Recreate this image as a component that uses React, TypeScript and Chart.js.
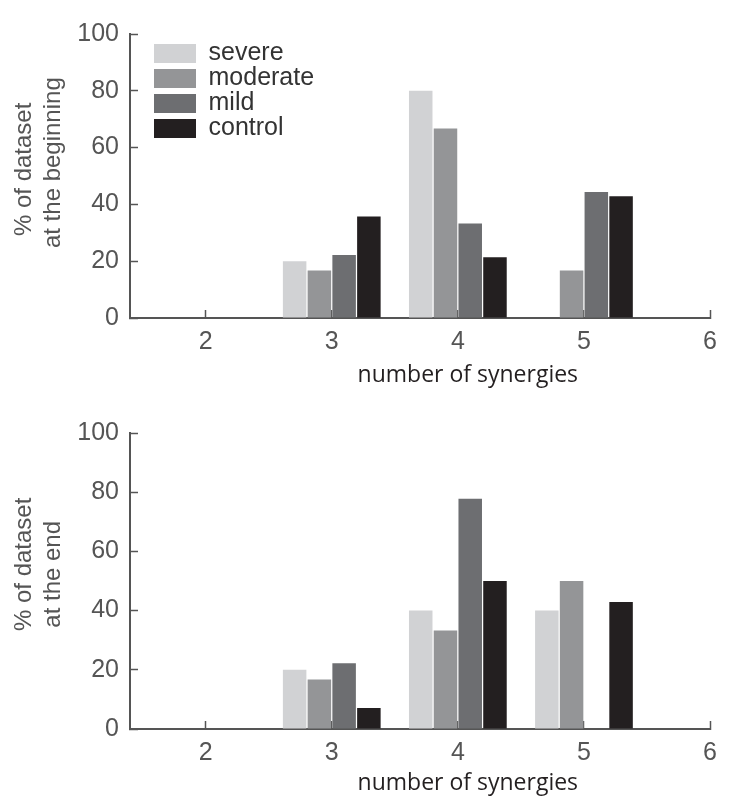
import React, { useEffect, useRef } from "react";
import { Chart, registerables } from "chart.js";

Chart.register(...registerables);

// ---- data ----
const categories = [3, 4, 5];
const xTickValues = [2, 3, 4, 5, 6];
const yTickValues = [0, 20, 40, 60, 80, 100];
const seriesNames = ["severe", "moderate", "mild", "control"];
const seriesColors = ["#d1d2d4", "#949597", "#6d6e71", "#231f20"];

const beginSevere = [20, 80, 0];
const beginModerate = [16.7, 66.7, 16.7];
const beginMild = [22.2, 33.3, 44.4];
const beginControl = [35.7, 21.4, 42.9];

const endSevere = [20, 40, 40];
const endModerate = [16.7, 33.3, 50];
const endMild = [22.2, 77.8, 0];
const endControl = [7.1, 50, 42.9];

// leading spaces nudge the centred titles to where the original places them
const topYTitle = ["  % of dataset", "    at the beginning"];
const bottomYTitle = ["     % of dataset", "  at the end"];
const xTitle = "                number of synergies";

const AXIS_COLOR = "#555555";
const TICK_FONT = "'Liberation Sans', Arial, sans-serif";

const legendShift = {
  id: "legendShift",
  afterLayout(chart: any) {
    const l = chart.legend;
    if (!l || !chart.options.plugins.legend.display) return;
    const ca = chart.chartArea;
    l.left = ca.left + 24;
    l.top = ca.top + 7;
    l.right = ca.right;
    l.bottom = ca.bottom;
  },
};

function buildConfig(
  values: number[][],
  yTitle: string[],
  withLegend: boolean,
  padTop: number,
  xAxisHeight: number,
  xTitlePadBottom: number
): any {
  return {
    type: "bar",
    data: {
      datasets: seriesNames.map((name, i) => ({
        label: name,
        data: categories.map((c, j) => ({ x: c, y: values[i][j] })),
        backgroundColor: seriesColors[i],
        borderWidth: 0,
        categoryPercentage: 0.785,
        barPercentage: 0.95,
      })),
    },
    options: {
      responsive: false,
      animation: false,
      devicePixelRatio: 1,
      layout: { padding: { top: padTop, right: 11, left: 0, bottom: 0 } },
      plugins: {
        tooltip: { enabled: false },
        legend: {
          display: withLegend,
          position: "chartArea",
          align: "start",
          labels: {
            boxWidth: 42,
            boxHeight: 19,
            padding: 0,
            color: "#333333",
            font: { family: TICK_FONT, size: 25 },
          },
        },
      },
      scales: {
        x: {
          type: "linear",
          min: 1.4,
          max: 6,
          offset: false,
          afterFit: (s: any) => {
            s.height = xAxisHeight;
          },
          afterBuildTicks: (s: any) => {
            s.ticks = xTickValues.map((v) => ({ value: v }));
          },
          grid: {
            offset: false,
            drawOnChartArea: false,
            drawTicks: true,
            tickLength: -8,
            tickColor: AXIS_COLOR,
            tickWidth: 1.5,
          },
          border: { display: true, color: AXIS_COLOR, width: 2 },
          ticks: {
            autoSkip: false,
            maxRotation: 0,
            padding: 17,
            color: AXIS_COLOR,
            font: { family: TICK_FONT, size: 25 },
          },
          title: {
            display: true,
            text: xTitle,
            color: "#231f20",
            font: { family: "'Open Sans', sans-serif", size: 23 },
            padding: { top: 0, bottom: xTitlePadBottom },
          },
        },
        y: {
          type: "linear",
          min: 0,
          max: 100,
          afterFit: (s: any) => {
            s.width = 130;
          },
          afterBuildTicks: (s: any) => {
            s.ticks = yTickValues.map((v) => ({ value: v }));
          },
          grid: {
            drawOnChartArea: false,
            drawTicks: true,
            tickLength: -8,
            tickColor: AXIS_COLOR,
            tickWidth: 1.5,
          },
          border: { display: true, color: AXIS_COLOR, width: 2 },
          ticks: {
            padding: 19,
            color: AXIS_COLOR,
            font: { family: TICK_FONT, size: 25 },
          },
          title: {
            display: true,
            text: yTitle,
            color: AXIS_COLOR,
            font: { family: TICK_FONT, size: 24 },
            padding: { top: 10, bottom: 0 },
          },
        },
      },
    },
    plugins: [legendShift],
  };
}

function BarChart({ config, width, height }: { config: any; width: number; height: number }) {
  const ref = useRef<HTMLCanvasElement>(null);
  useEffect(() => {
    const chart = new Chart(ref.current as HTMLCanvasElement, config);
    return () => chart.destroy();
  }, []);
  return (
    <canvas
      ref={ref}
      width={width}
      height={height}
      style={{ display: "block", width, height }}
    />
  );
}

export default function App() {
  const topConfig = buildConfig(
    [beginSevere, beginModerate, beginMild, beginControl],
    topYTitle,
    true,
    23,
    72,
    1
  );
  const bottomConfig = buildConfig(
    [endSevere, endModerate, endMild, endControl],
    bottomYTitle,
    false,
    43,
    68,
    0
  );
  return (
    <div
      style={{
        position: "absolute",
        left: 0,
        top: 0,
        width: 734,
        height: 797,
        background: "#ffffff",
      }}
    >
      <BarChart config={topConfig} width={734} height={390} />
      <BarChart config={bottomConfig} width={734} height={407} />
    </div>
  );
}
